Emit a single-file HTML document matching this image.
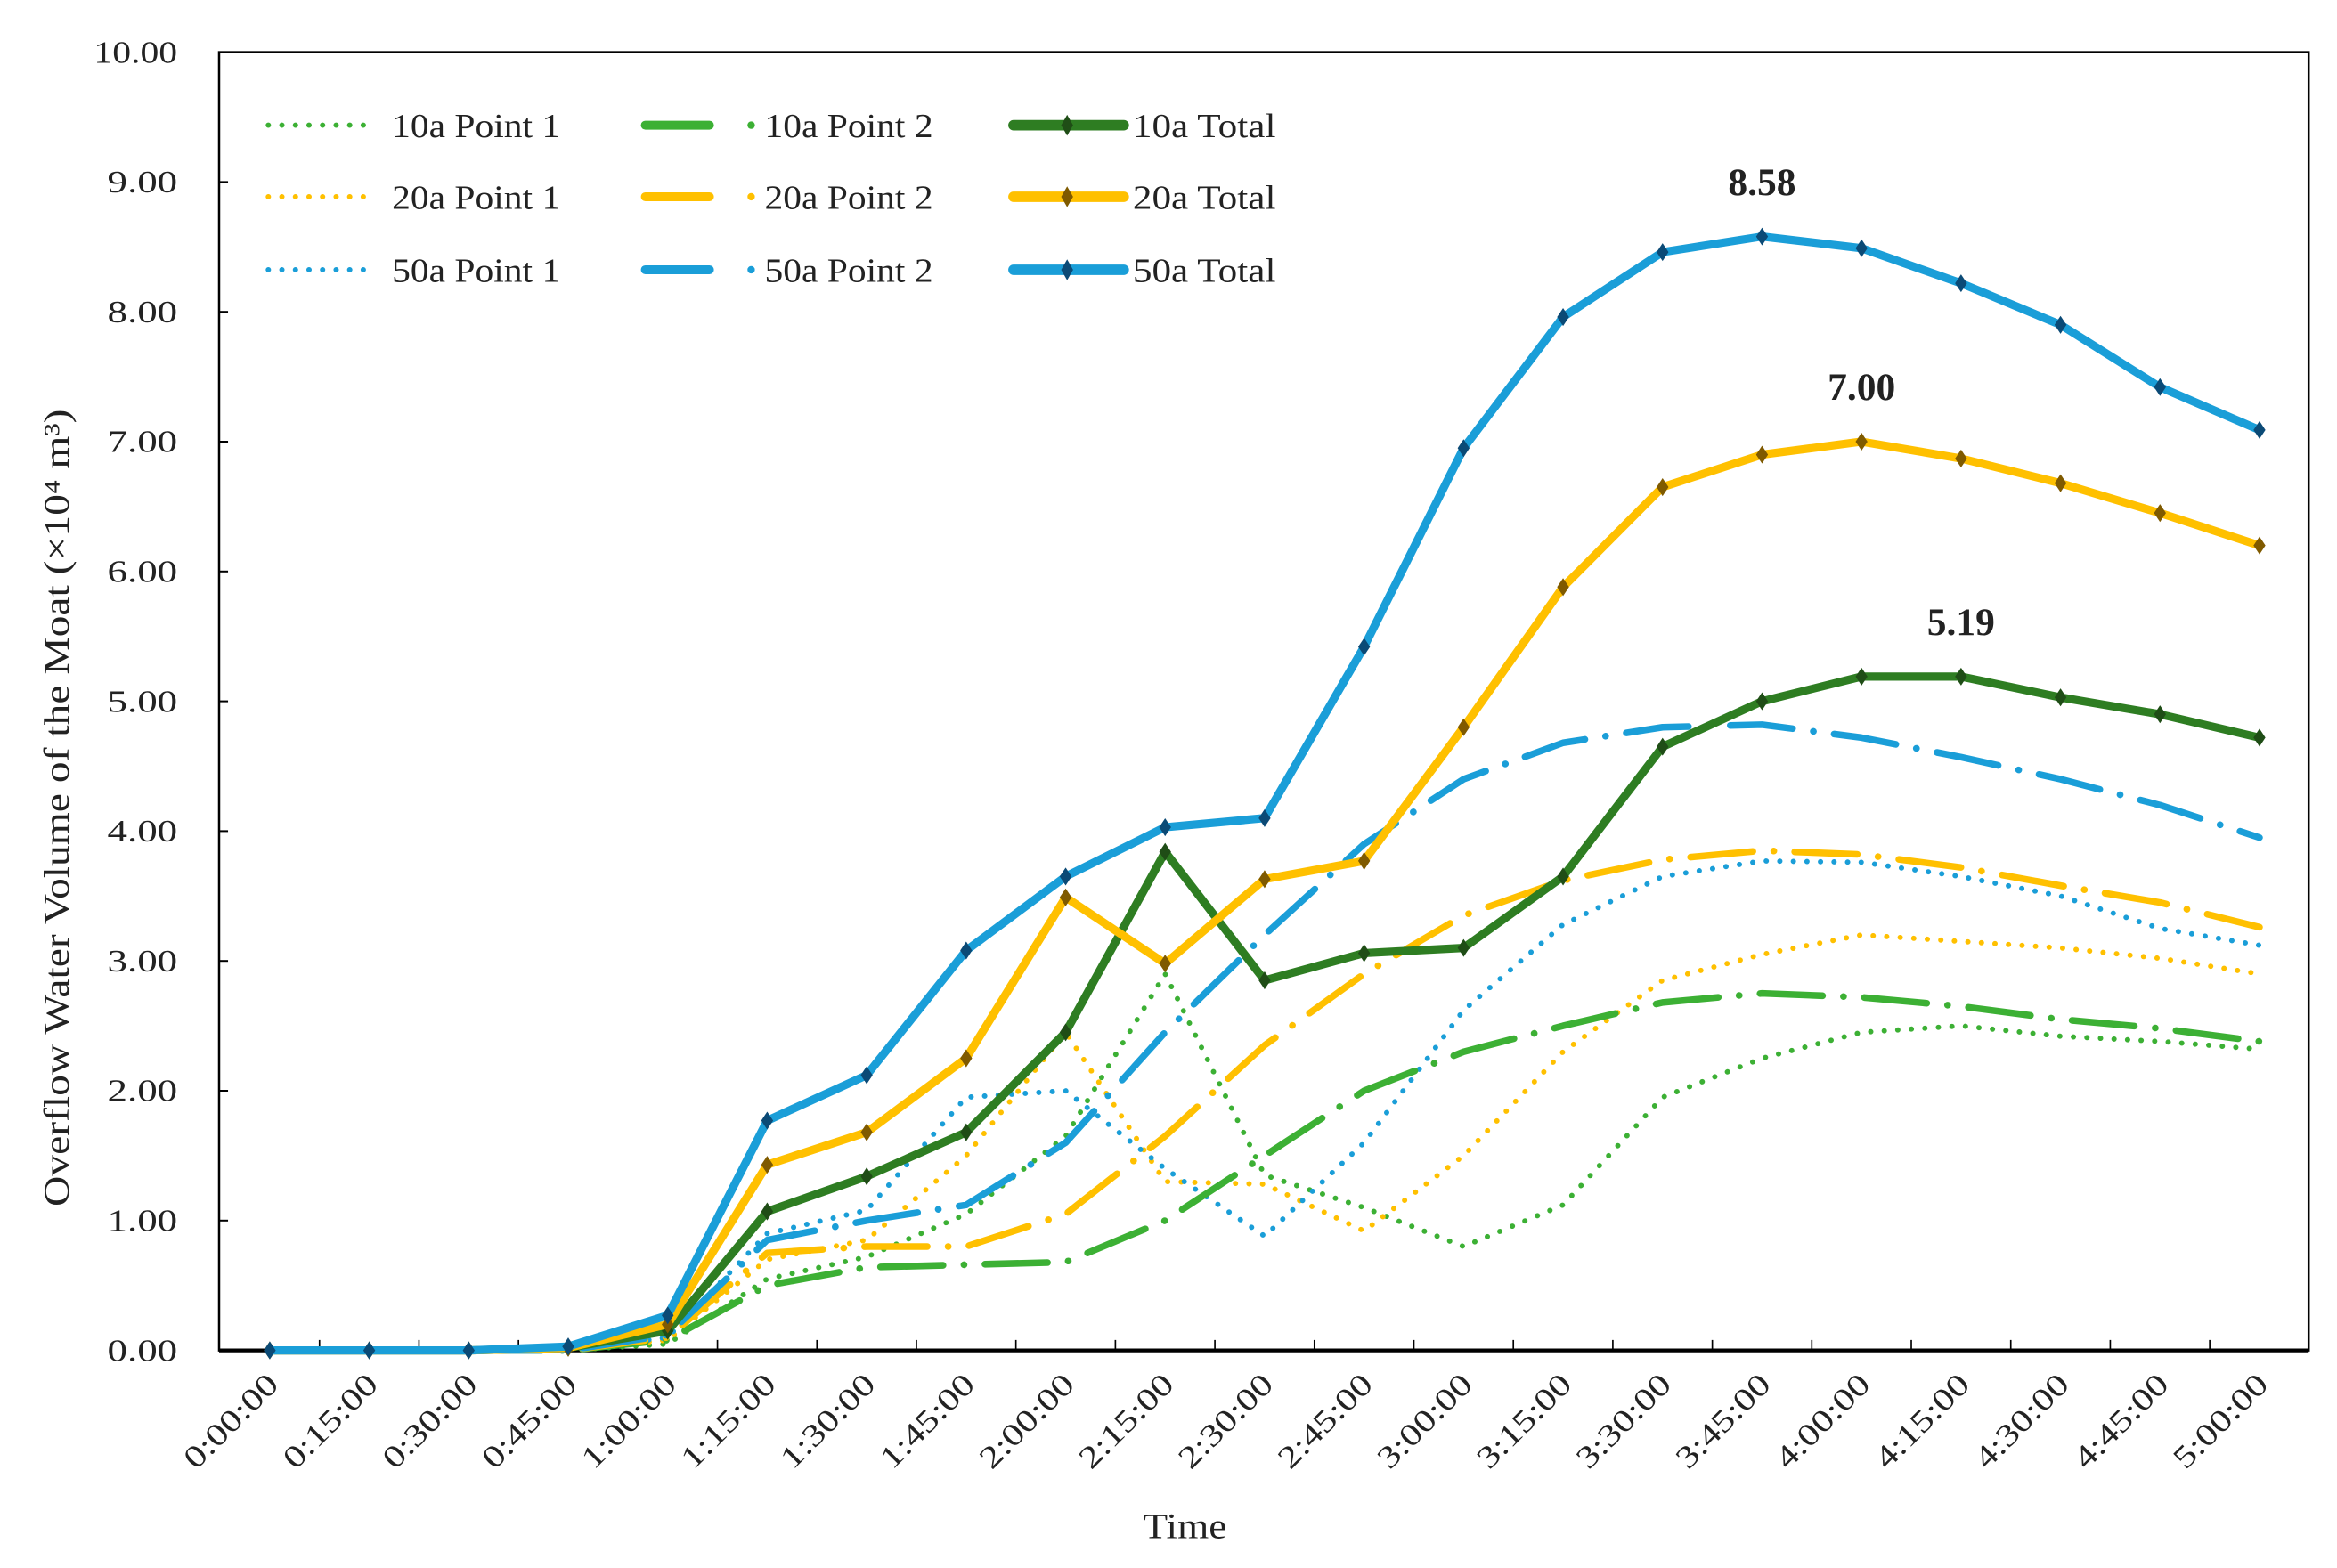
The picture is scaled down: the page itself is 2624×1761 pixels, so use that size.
<!DOCTYPE html>
<html><head><meta charset="utf-8"><style>
html,body{margin:0;padding:0;background:#fff;}
svg{display:block;}
text{font-family:"Liberation Serif",serif;fill:#222;}
</style></head><body>
<svg id="chart" width="2624" height="1761" viewBox="0 0 1568 1052" preserveAspectRatio="none" xmlns="http://www.w3.org/2000/svg">
<rect x="0" y="0" width="1568" height="1052" fill="#fff"/>
<g id="plot"></g>
</svg>
<script>
const categories=["0:00:00","0:15:00","0:30:00","0:45:00","1:00:00","1:15:00","1:30:00","1:45:00","2:00:00","2:15:00","2:30:00","2:45:00","3:00:00","3:15:00","3:30:00","3:45:00","4:00:00","4:15:00","4:30:00","4:45:00","5:00:00"];
const yTicks=[0,1,2,3,4,5,6,7,8,9,10];
const p1_10=[0,0,0,0,0.05,0.55,0.72,1.05,1.65,2.9,1.35,1.1,0.8,1.12,1.95,2.25,2.45,2.5,2.42,2.38,2.32];
const p2_10=[0,0,0,0,0.08,0.5,0.64,0.66,0.68,1.0,1.5,2.0,2.3,2.5,2.68,2.75,2.72,2.65,2.55,2.48,2.38];
const tot_10=[0,0,0,0.02,0.15,1.07,1.34,1.68,2.45,3.84,2.85,3.06,3.1,3.65,4.65,5.0,5.19,5.19,5.03,4.9,4.72];
const p1_20=[0,0,0,0,0.08,0.7,0.85,1.5,2.45,1.3,1.28,0.92,1.5,2.3,2.85,3.05,3.2,3.15,3.1,3.02,2.9];
const p2_20=[0,0,0,0,0.1,0.75,0.8,0.8,1.05,1.65,2.35,2.9,3.35,3.62,3.78,3.85,3.82,3.72,3.58,3.45,3.26];
const tot_20=[0,0,0,0.02,0.2,1.43,1.68,2.25,3.49,2.98,3.63,3.77,4.8,5.88,6.65,6.9,7.0,6.87,6.68,6.45,6.2];
const p1_50=[0,0,0,0,0.1,0.9,1.08,1.95,2.0,1.4,0.88,1.6,2.62,3.28,3.65,3.77,3.76,3.65,3.5,3.25,3.12];
const p2_50=[0,0,0,0,0.12,0.85,1.0,1.12,1.6,2.45,3.2,3.9,4.4,4.68,4.8,4.82,4.72,4.57,4.4,4.2,3.95];
const tot_50=[0,0,0,0.03,0.27,1.77,2.12,3.08,3.65,4.03,4.1,5.42,6.95,7.96,8.46,8.58,8.49,8.22,7.9,7.42,7.09];
const peakLabels=[{s:tot_50,t:"8.58"},{s:tot_20,t:"7.00"},{s:tot_10,t:"5.19"}];

const NS="http://www.w3.org/2000/svg";
const L=147,R=1549,T=35,B=906,x0=181,dx=(1516-181)/20;
const X=i=>x0+i*dx, Y=v=>B-(v/10)*(B-T);
const g=document.getElementById('plot');
function el(tag,attrs,parent){const e=document.createElementNS(NS,tag);for(const k in attrs)e.setAttribute(k,attrs[k]);(parent||g).appendChild(e);return e;}
function pts(s){return s.map((v,i)=>X(i)+","+Y(v)).join(" ");}

let f=el('rect',{x:L,y:T,width:R-L,height:B-T,fill:'none',stroke:'#000','stroke-width':1.5});

yTicks.forEach(v=>{
  let t=el('line',{x1:L,x2:L+6,y1:Y(v),y2:Y(v),stroke:'#000','stroke-width':1.2});
  
  let lb=el('text',{x:119,y:Y(v)+7,'text-anchor':'end','font-size':21,textLength:(v===10?56:47),lengthAdjust:'spacingAndGlyphs'});lb.textContent=v.toFixed(2);
  
});
el('line',{x1:L,x2:R,y1:B,y2:B,stroke:'#000','stroke-width':2.5});
categories.forEach((c,i)=>{
  if(i<20){let t=el('line',{x1:X(i)+dx/2,x2:X(i)+dx/2,y1:B,y2:B-7,stroke:'#000','stroke-width':1});
  }
  let lb=el('text',{x:0,y:0,'text-anchor':'end','font-size':21,textLength:80,lengthAdjust:'spacingAndGlyphs',transform:`translate(${X(i)+7},${B+24}) rotate(-45)`});lb.textContent=c;
  
});
let yt=el('text',{x:0,y:0,'text-anchor':'middle','font-size':24,textLength:535,lengthAdjust:'spacingAndGlyphs',transform:'translate(46,542) rotate(-90)'});yt.textContent="Overflow Water Volume of the Moat (×10⁴ m³)";

let xt=el('text',{x:795,y:1032,'text-anchor':'middle','font-size':24,textLength:56,lengthAdjust:'spacingAndGlyphs'});xt.textContent="Time";


const GL='#3cb034',GD='#2e7d22',YL='#ffc000',BL='#1a9ed8';
const series=[
 {d:p1_10,c:GL,w:3.5,dash:'0.1 9',name:'10a Point 1'},
 {d:p1_20,c:YL,w:3.5,dash:'0.1 9',name:'20a Point 1'},
 {d:p1_50,c:BL,w:3.5,dash:'0.1 9',name:'50a Point 1'},
 {d:p2_10,c:GL,w:4.5,dash:'42 14 0.1 14',name:'10a Point 2'},
 {d:p2_20,c:YL,w:4.5,dash:'42 14 0.1 14',name:'20a Point 2'},
 {d:p2_50,c:BL,w:4.5,dash:'42 14 0.1 14',name:'50a Point 2'},
 {d:tot_10,c:GD,w:5.5,dash:'',name:'10a Total',m:'#1f4d16'},
 {d:tot_20,c:YL,w:5.5,dash:'',name:'20a Total',m:'#7f5a00'},
 {d:tot_50,c:BL,w:5.5,dash:'',name:'50a Total',m:'#0b4a76'}
];
series.forEach(s=>{
  let p=el('polyline',{points:pts(s.d),fill:'none',stroke:s.c,'stroke-width':s.w,'stroke-linecap':'round','stroke-linejoin':'round','stroke-dasharray':s.dash});
  
  
  if(s.m){s.d.forEach((v,i)=>{
    let m=el('polygon',{points:`${X(i)},${Y(v)-6} ${X(i)+4},${Y(v)} ${X(i)},${Y(v)+6} ${X(i)-4},${Y(v)}`,fill:s.m});
    
  });}
});
peakLabels.forEach(p=>{
  const mx=Math.max(...p.s), i=p.s.lastIndexOf(mx);
  let t=el('text',{x:X(i),y:Y(mx)-28,'text-anchor':'middle','font-size':26,'font-weight':'bold'});
  t.textContent=p.t;
  
});
const lx=[180,430,680],ly=[84,132,181];
const lg=el('g',{});

series.forEach((s,k)=>{
  const col=Math.floor(k/3),row=k%3, x=lx[col], y=ly[row];
  const e=el('g',{},lg);
  
  if(col===0) el('line',{x1:x,x2:x+68,y1:y,y2:y,stroke:s.c,'stroke-width':3.5,'stroke-linecap':'round','stroke-dasharray':'0.1 9'},e);
  else if(col===1){el('line',{x1:x+3,x2:x+46,y1:y,y2:y,stroke:s.c,'stroke-width':6,'stroke-linecap':'round'},e);el('circle',{cx:x+74,cy:y,r:2.5,fill:s.c},e);}
  else {el('line',{x1:x,x2:x+74,y1:y,y2:y,stroke:s.c,'stroke-width':7,'stroke-linecap':'round'},e);el('polygon',{points:`${x+36},${y-7} ${x+40},${y} ${x+36},${y+7} ${x+32},${y}`,fill:s.m},e);}
  const t=el('text',{x:x+(col===2?80:83),y:y+8,'font-size':23,textLength:(col===2?96:113),lengthAdjust:'spacingAndGlyphs'},e);t.textContent=s.name;
});
</script>
</body></html>
